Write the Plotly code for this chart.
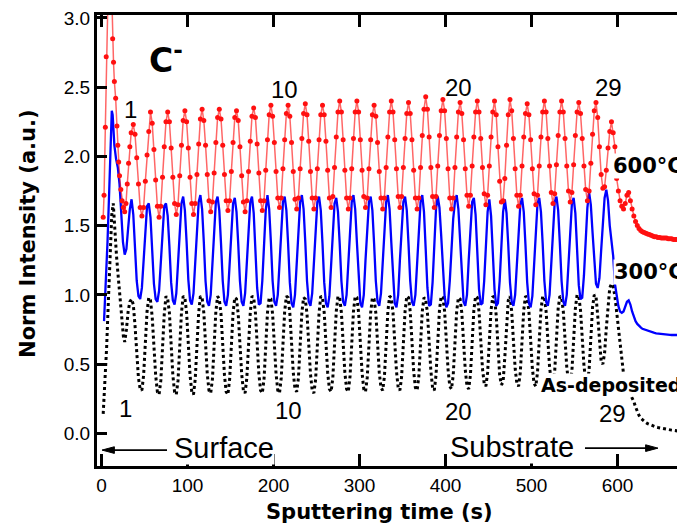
import plotly.graph_objects as go

# ---------------- data ----------------
STEP = 2  # sampling step (s) of the oscillating part

# --- 600 °C (red) ---
red_head_t = [2, 3, 4.5, 5.5, 7, 9, 11, 13, 14, 15, 16.5, 18, 19, 20, 21, 22.5, 24, 25.5, 27, 28.5, 30, 31.5, 33, 34.5]
red_head_v = [1.56, 1.72, 2.21, 2.72, 3.30, 3.60, 3.40, 2.85, 2.68, 2.54, 2.42, 2.22, 2.08, 1.96, 1.86, 1.76, 1.68, 1.63, 1.60, 1.66, 1.80, 1.95, 2.07, 2.17]
cycle_peak_t = [37, 57, 77, 97, 117, 137, 157, 177, 197, 217, 237, 257, 277, 297, 317, 337, 357, 377, 397, 417,
                437, 457, 475, 495, 515, 535, 555, 575]
red_cycles = [
    [2.23, 2.16, 1.99, 1.80, 1.63, 1.57, 1.63, 1.82, 2.01, 2.18],
    [2.32, 2.24, 2.05, 1.83, 1.64, 1.56, 1.64, 1.85, 2.07, 2.25],
    [2.32, 2.25, 2.06, 1.85, 1.66, 1.58, 1.65, 1.86, 2.08, 2.26],
    [2.33, 2.25, 2.06, 1.85, 1.66, 1.58, 1.66, 1.87, 2.09, 2.27],
    [2.34, 2.26, 2.08, 1.87, 1.68, 1.60, 1.67, 1.88, 2.10, 2.28],
    [2.34, 2.27, 2.08, 1.87, 1.68, 1.61, 1.68, 1.89, 2.10, 2.28],
    [2.33, 2.26, 2.07, 1.86, 1.67, 1.60, 1.68, 1.89, 2.11, 2.29],
    [2.35, 2.28, 2.09, 1.88, 1.68, 1.61, 1.68, 1.90, 2.12, 2.30],
    [2.37, 2.29, 2.10, 1.89, 1.70, 1.63, 1.70, 1.91, 2.12, 2.31],
    [2.37, 2.29, 2.10, 1.89, 1.69, 1.62, 1.70, 1.91, 2.13, 2.31],
    [2.38, 2.30, 2.11, 1.89, 1.70, 1.62, 1.70, 1.91, 2.12, 2.30],
    [2.37, 2.30, 2.11, 1.90, 1.70, 1.63, 1.71, 1.92, 2.14, 2.32],
    [2.40, 2.32, 2.12, 1.90, 1.70, 1.62, 1.70, 1.91, 2.13, 2.32],
    [2.40, 2.32, 2.12, 1.90, 1.71, 1.63, 1.70, 1.91, 2.12, 2.30],
    [2.37, 2.29, 2.10, 1.89, 1.70, 1.62, 1.70, 1.92, 2.14, 2.32],
    [2.40, 2.32, 2.12, 1.91, 1.71, 1.63, 1.71, 1.92, 2.13, 2.31],
    [2.39, 2.31, 2.12, 1.90, 1.70, 1.62, 1.70, 1.92, 2.15, 2.34],
    [2.43, 2.34, 2.14, 1.92, 1.71, 1.63, 1.71, 1.93, 2.15, 2.33],
    [2.41, 2.33, 2.13, 1.91, 1.70, 1.62, 1.70, 1.92, 2.14, 2.32],
    [2.39, 2.31, 2.12, 1.91, 1.72, 1.64, 1.72, 1.93, 2.14, 2.32],
    [2.40, 2.32, 2.13, 1.92, 1.73, 1.65, 1.72, 1.93, 2.14, 2.32],
    [2.40, 2.30, 2.07, 1.82, 1.67, 1.68, 1.84, 2.08, 2.30],
    [2.41, 2.33, 2.13, 1.91, 1.72, 1.64, 1.72, 1.93, 2.14, 2.31],
    [2.38, 2.30, 2.12, 1.91, 1.73, 1.65, 1.72, 1.93, 2.14, 2.32],
    [2.40, 2.32, 2.13, 1.93, 1.74, 1.66, 1.73, 1.94, 2.15, 2.32],
    [2.40, 2.32, 2.13, 1.93, 1.75, 1.67, 1.74, 1.94, 2.15, 2.32],
    [2.39, 2.31, 2.13, 1.93, 1.76, 1.68, 1.75, 1.95, 2.16, 2.33],
    [2.39, 2.28, 2.07, 1.87, 1.77, 1.78, 1.90, 2.06, 2.18],
]
red_tail_t0 = 593
red_tail_v = [2.25, 2.17, 2.07, 1.84, 1.75, 1.68, 1.64, 1.62, 1.66, 1.72,
              1.74, 1.68, 1.62, 1.57, 1.53, 1.50, 1.48, 1.465, 1.455, 1.45,
              1.445, 1.44, 1.435, 1.43, 1.425, 1.42, 1.42, 1.415, 1.415, 1.41,
              1.41, 1.41, 1.41, 1.405, 1.405, 1.405, 1.40, 1.40, 1.40, 1.40,
              1.40, 1.40, 1.40, 1.40, 1.40]

# --- 300 °C (blue) ---
blue_head_t = [3, 5, 7, 9, 11, 12, 13, 15, 17, 19, 21, 23, 25, 27, 29, 31, 33, 35]
blue_head_v = [0.81, 1.05, 1.38, 1.75, 2.15, 2.33, 2.30, 2.08, 1.98, 1.92, 1.80, 1.58, 1.38, 1.29, 1.33, 1.48, 1.62, 1.69]
blue_seg_t = [37, 55, 75, 95, 115, 135, 155, 175, 193, 213, 233, 253, 273, 293, 313, 333, 353, 373, 391, 413,
              433, 451, 469, 489, 509, 529, 549, 567]
blue_segs = [
    [1.58, 1.34, 1.10, 0.99, 0.97, 1.05, 1.27, 1.50, 1.64],
    [1.66, 1.56, 1.32, 1.08, 0.97, 0.95, 1.03, 1.26, 1.50, 1.64],
    [1.66, 1.57, 1.35, 1.09, 0.96, 0.93, 1.01, 1.25, 1.51, 1.66],
    [1.71, 1.61, 1.38, 1.11, 0.96, 0.93, 1.01, 1.26, 1.52, 1.67],
    [1.72, 1.62, 1.38, 1.10, 0.95, 0.92, 1.00, 1.25, 1.51, 1.67],
    [1.71, 1.61, 1.37, 1.10, 0.95, 0.92, 1.00, 1.25, 1.51, 1.66],
    [1.70, 1.60, 1.37, 1.10, 0.95, 0.92, 1.01, 1.26, 1.52, 1.67],
    [1.71, 1.59, 1.32, 1.05, 0.93, 0.94, 1.10, 1.37, 1.61],
    [1.72, 1.62, 1.38, 1.10, 0.95, 0.92, 1.00, 1.25, 1.51, 1.67],
    [1.71, 1.61, 1.37, 1.09, 0.94, 0.91, 1.00, 1.25, 1.51, 1.67],
    [1.72, 1.62, 1.38, 1.10, 0.95, 0.92, 1.01, 1.26, 1.52, 1.67],
    [1.71, 1.61, 1.37, 1.09, 0.94, 0.91, 0.99, 1.24, 1.50, 1.66],
    [1.70, 1.60, 1.37, 1.10, 0.95, 0.92, 1.00, 1.25, 1.51, 1.67],
    [1.72, 1.62, 1.38, 1.10, 0.94, 0.91, 1.00, 1.25, 1.51, 1.67],
    [1.71, 1.61, 1.37, 1.10, 0.95, 0.92, 1.01, 1.26, 1.52, 1.67],
    [1.72, 1.62, 1.38, 1.10, 0.94, 0.91, 1.00, 1.25, 1.51, 1.67],
    [1.71, 1.61, 1.37, 1.10, 0.95, 0.92, 1.00, 1.25, 1.51, 1.67],
    [1.72, 1.60, 1.33, 1.05, 0.92, 0.93, 1.09, 1.37, 1.62],
    [1.71, 1.63, 1.43, 1.18, 0.99, 0.91, 0.94, 1.10, 1.34, 1.55, 1.67],
    [1.72, 1.62, 1.38, 1.10, 0.95, 0.92, 1.00, 1.25, 1.51, 1.67],
    [1.70, 1.58, 1.31, 1.04, 0.93, 0.94, 1.10, 1.37, 1.60],
    [1.69, 1.57, 1.31, 1.04, 0.92, 0.94, 1.10, 1.37, 1.60],
    [1.69, 1.59, 1.36, 1.09, 0.95, 0.92, 1.00, 1.24, 1.50, 1.65],
    [1.70, 1.60, 1.36, 1.09, 0.94, 0.91, 0.99, 1.24, 1.50, 1.66],
    [1.70, 1.60, 1.37, 1.10, 0.95, 0.92, 1.00, 1.25, 1.51, 1.67],
    [1.71, 1.61, 1.37, 1.10, 0.95, 0.92, 1.00, 1.25, 1.51, 1.66],
    [1.70, 1.59, 1.33, 1.07, 0.97, 0.98, 1.14, 1.40, 1.63],
    [1.74, 1.65, 1.45, 1.22, 1.08, 1.05, 1.12, 1.32, 1.55, 1.70],
]
blue_tail_t0 = 587
blue_tail_v = [1.76, 1.68, 1.50, 1.38, 1.28, 1.08, 0.98, 0.92, 0.88, 0.87,
               0.88, 0.92, 0.95, 0.96, 0.93, 0.88, 0.84, 0.81, 0.79, 0.775,
               0.765, 0.755, 0.75, 0.745, 0.74, 0.735, 0.73, 0.728, 0.725, 0.722,
               0.72, 0.718, 0.716, 0.715, 0.714, 0.713, 0.712, 0.711, 0.71, 0.71,
               0.71, 0.71, 0.71, 0.71, 0.71, 0.71, 0.71, 0.71]

# --- As-deposited (black dotted) ---
black_head_t = [2, 4, 6, 8, 10, 12, 13.7, 15.5, 17.5, 19.5, 21.5, 23.5, 25.5, 27, 29, 31, 33, 35]
black_head_v = [0.14, 0.35, 0.62, 0.95, 1.30, 1.58, 1.66, 1.45, 1.28, 1.13, 0.97, 0.82, 0.70, 0.66, 0.75, 0.88, 0.95, 0.97]
black_cycles = [
    [0.93, 0.78, 0.56, 0.40, 0.32, 0.31, 0.42, 0.66, 0.88, 0.98],
    [0.96, 0.84, 0.62, 0.42, 0.30, 0.28, 0.38, 0.62, 0.86, 0.99],
    [0.97, 0.87, 0.64, 0.42, 0.30, 0.28, 0.38, 0.63, 0.87, 0.99],
    [0.98, 0.87, 0.64, 0.42, 0.30, 0.28, 0.39, 0.63, 0.87, 0.99],
    [0.98, 0.87, 0.64, 0.43, 0.31, 0.29, 0.39, 0.64, 0.88, 0.99],
    [0.97, 0.86, 0.63, 0.42, 0.30, 0.28, 0.39, 0.63, 0.87, 0.98],
    [0.97, 0.86, 0.64, 0.43, 0.31, 0.29, 0.40, 0.64, 0.87, 0.99],
    [0.98, 0.87, 0.64, 0.43, 0.31, 0.29, 0.39, 0.63, 0.87, 0.98],
    [0.97, 0.86, 0.64, 0.43, 0.31, 0.29, 0.40, 0.64, 0.88, 0.99],
    [0.98, 0.87, 0.65, 0.44, 0.32, 0.30, 0.40, 0.64, 0.87, 0.98],
    [0.97, 0.86, 0.64, 0.43, 0.31, 0.29, 0.39, 0.63, 0.87, 0.99],
    [0.98, 0.87, 0.65, 0.44, 0.32, 0.30, 0.40, 0.64, 0.88, 0.99],
    [0.98, 0.87, 0.65, 0.44, 0.32, 0.30, 0.41, 0.65, 0.88, 0.99],
    [0.98, 0.87, 0.65, 0.44, 0.32, 0.30, 0.40, 0.64, 0.87, 0.98],
    [0.97, 0.87, 0.65, 0.44, 0.33, 0.31, 0.41, 0.65, 0.88, 0.99],
    [0.98, 0.87, 0.65, 0.45, 0.33, 0.31, 0.41, 0.65, 0.88, 0.99],
    [0.98, 0.88, 0.66, 0.45, 0.33, 0.31, 0.41, 0.65, 0.88, 0.98],
    [0.97, 0.87, 0.65, 0.45, 0.33, 0.31, 0.42, 0.66, 0.89, 0.99],
    [0.98, 0.88, 0.66, 0.46, 0.34, 0.32, 0.42, 0.66, 0.88, 0.98],
    [0.97, 0.87, 0.66, 0.46, 0.34, 0.32, 0.42, 0.66, 0.89, 0.99],
    [0.98, 0.88, 0.67, 0.47, 0.36, 0.34, 0.44, 0.67, 0.89, 0.99],
    [0.98, 0.85, 0.61, 0.42, 0.35, 0.37, 0.55, 0.80, 0.96],
    [0.99, 0.88, 0.67, 0.47, 0.36, 0.34, 0.44, 0.67, 0.89, 0.99],
    [0.98, 0.88, 0.67, 0.47, 0.36, 0.34, 0.44, 0.67, 0.89, 0.99],
    [0.98, 0.88, 0.67, 0.48, 0.37, 0.35, 0.45, 0.68, 0.90, 0.99],
    [0.98, 0.88, 0.68, 0.48, 0.37, 0.35, 0.45, 0.68, 0.90, 1.00],
    [0.99, 0.89, 0.68, 0.49, 0.38, 0.36, 0.46, 0.69, 0.91, 1.00],
    [0.99, 0.85, 0.65, 0.52, 0.50, 0.58, 0.76, 0.94, 1.05],
]
black_tail_t0 = 593
black_tail_v = [1.08, 1.06, 0.99, 0.87, 0.75, 0.62, 0.50, 0.43, 0.38, 0.34,
                0.31, 0.28, 0.255, 0.23, 0.19, 0.155, 0.13, 0.11, 0.097, 0.087,
                0.078, 0.07, 0.064, 0.058, 0.053, 0.049, 0.045, 0.042, 0.039, 0.036,
                0.034, 0.031, 0.029, 0.027, 0.025, 0.023, 0.021, 0.019, 0.017, 0.015,
                0.013, 0.012, 0.01, 0.009, 0.008]

x_tick_vals = [0, 100, 200, 300, 400, 500, 600]
y_tick_vals = [0.0, 0.5, 1.0, 1.5, 2.0, 2.5, 3.0]


def build(head_t, head_v, starts, segs, tail_t0, tail_v):
    xs, ys = list(head_t), list(head_v)
    for i, (s, seg) in enumerate(zip(starts, segs)):
        nxt = starts[i + 1] if i + 1 < len(starts) else tail_t0
        assert len(seg) == (nxt - s) // STEP, (s, len(seg))
        xs += [s + STEP * k for k in range(len(seg))]
        ys += seg
    xs += [tail_t0 + STEP * k for k in range(len(tail_v))]
    ys += tail_v
    return xs, ys


rx, ry = build(red_head_t, red_head_v, cycle_peak_t, red_cycles, red_tail_t0, red_tail_v)
bx, by = build(blue_head_t, blue_head_v, blue_seg_t, blue_segs, blue_tail_t0, blue_tail_v)
kx, ky = build(black_head_t, black_head_v, cycle_peak_t, black_cycles, black_tail_t0, black_tail_v)

fig = go.Figure()
fig.add_trace(go.Scatter(x=kx, y=ky, mode="lines", name="As-deposited",
                         line=dict(color="black", width=3, dash="dot")))
fig.add_trace(go.Scatter(x=bx, y=by, mode="lines", name="300°C",
                         line=dict(color="#0000ff", width=2.3)))
fig.add_trace(go.Scatter(x=rx, y=ry, mode="lines+markers", name="600°C",
                         line=dict(color="rgba(255,0,0,0.6)", width=1.5),
                         marker=dict(color="#ff1010", size=5)))

SANS = "Liberation Sans, Arial, sans-serif"
BOLD = "DejaVu Sans, Arial, sans-serif"

ann = []


def txt(x, y, s, size, fam=SANS, xanchor="center", bg=None, ref="data"):
    d = dict(x=x, y=y, text=s, showarrow=False, xanchor=xanchor, yanchor="middle",
             font=dict(family=fam, size=size, color="black"))
    if ref == "data":
        d.update(xref="x", yref="y")
    else:
        d.update(xref="paper", yref="paper")
    if bg:
        d.update(bgcolor=bg, borderpad=0)
    ann.append(d)


txt(75, 2.71, "<b>C<sup>-</sup></b>", 33, BOLD)
# cycle numbers
txt(33.7, 2.34, "1", 24)
txt(213, 2.48, "10", 24)
txt(415.7, 2.50, "20", 24)
txt(590, 2.50, "29", 24)
txt(28.5, 0.18, "1", 24)
txt(218, 0.165, "10", 24)
txt(415, 0.16, "20", 24)
txt(594, 0.146, "29", 24)
# series labels
txt(593.6, 1.93, "<b>600°C</b>", 21, BOLD, xanchor="left", bg="white")
txt(594.8, 1.164, "<b>300°C</b>", 21, BOLD, xanchor="left", bg="white")
txt(509.9, 0.35, "<b>As-deposited</b>", 19, BOLD, xanchor="left", bg="white")
# surface / substrate
txt(142.4, -0.105, "Surface", 29, bg="white")
txt(477.9, -0.10, "Substrate", 29, bg="white")
# axis titles
txt(0.481, -0.101, "<b>Sputtering time (s)</b>", 21, BOLD, ref="paper")
ann.append(dict(x=-0.117, y=0.515, xref="paper", yref="paper", text="<b>Norm Intensity (a.u.)</b>",
                showarrow=False, textangle=-90, xanchor="center", yanchor="middle",
                font=dict(family=BOLD, size=21, color="black")))

# arrows (Surface <-, -> Substrate) drawn as line + filled head shapes
arrow_y_left, arrow_y_right = -0.121, -0.107
shapes = [
    dict(type="line", xref="x", yref="y", x0=8, x1=76.2, y0=arrow_y_left, y1=arrow_y_left,
         line=dict(color="black", width=1.8)),
    dict(type="path", xref="x", yref="y",
         path=f"M 0.6,{arrow_y_left} L 15,{arrow_y_left + 0.024} L 15,{arrow_y_left - 0.024} Z",
         fillcolor="black", line=dict(color="black", width=1)),
    dict(type="line", xref="x", yref="y", x0=562.2, x1=640, y0=arrow_y_right, y1=arrow_y_right,
         line=dict(color="black", width=1.8)),
    dict(type="path", xref="x", yref="y",
         path=f"M 647.1,{arrow_y_right} L 632.7,{arrow_y_right + 0.024} L 632.7,{arrow_y_right - 0.024} Z",
         fillcolor="black", line=dict(color="black", width=1)),
]

fig.update_layout(
    width=677, height=520,
    margin=dict(l=89, r=0, t=2, b=62),
    paper_bgcolor="white", plot_bgcolor="white",
    showlegend=False,
    annotations=ann,
    shapes=shapes,
    xaxis=dict(range=[-5.2, 678.5], tickvals=x_tick_vals, ticks="inside", ticklen=12, tickwidth=2.5,
               tickcolor="black", showline=True, linecolor="black", linewidth=3, mirror="allticks",
               showgrid=False, zeroline=False,
               tickfont=dict(family=SANS, size=19, color="black")),
    yaxis=dict(range=[-0.236, 3.021], tickvals=y_tick_vals, tickformat=".1f", ticks="inside", ticklen=10,
               tickwidth=2.5, tickcolor="black", showline=True, linecolor="black", linewidth=3,
               showgrid=False, zeroline=False, ticklabeloverflow="allow",
               tickfont=dict(family=SANS, size=19, color="black")),
)

fig.write_html("out.html")
